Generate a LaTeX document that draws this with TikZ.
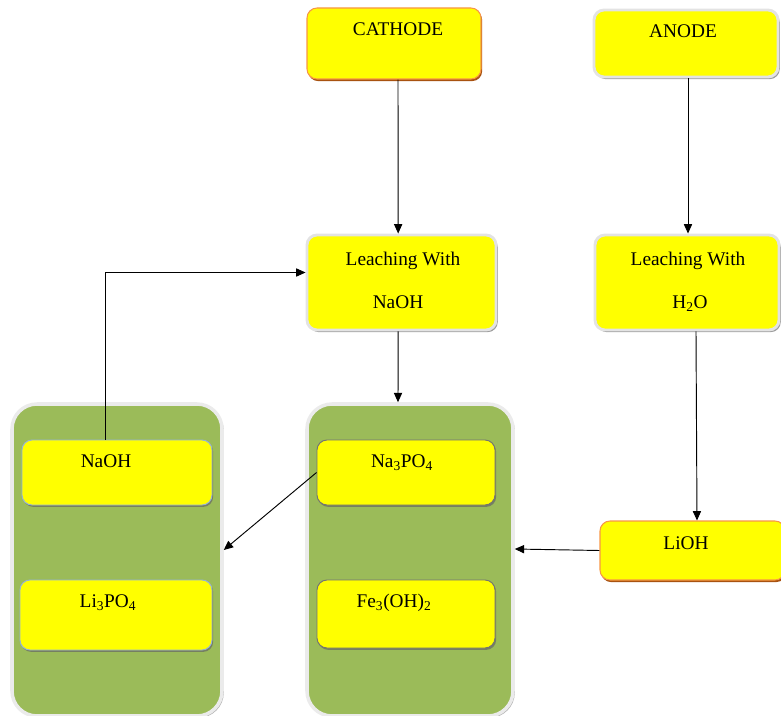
\documentclass[tikz,border=0pt]{standalone}
\usepackage{fontspec}
\setmainfont{Liberation Serif}
\usetikzlibrary{calc,shadows,arrows.meta}
\definecolor{boxyellow}{HTML}{FFFF00}
\definecolor{boxgreen}{HTML}{9BBB59}
\definecolor{edgeorange}{HTML}{F79646}
\definecolor{shadeorange}{HTML}{A85210}
\definecolor{edgeblue}{HTML}{95B3D7}

\begin{document}
\begin{tikzpicture}[
  box/.style={rectangle, fill=boxyellow, rounded corners=0.3cm, inner sep=0pt},
  whitebox/.style={box, draw=black!11, line width=2.5pt,
    drop shadow={shadow xshift=1.5pt, shadow yshift=-1.8pt, fill=black!55, opacity=0.7}},
  orangebox/.style={box, draw=edgeorange, line width=0.9pt,
    drop shadow={shadow xshift=1pt, shadow yshift=-1.8pt, fill=shadeorange, opacity=1}},
  innerbox/.style={box, draw=#1, line width=0.8pt,
    drop shadow={shadow xshift=1pt, shadow yshift=-1.6pt, fill=black!60, opacity=0.7}},
  group/.style={rectangle, fill=boxgreen, rounded corners=0.75cm, draw=black!8, line width=3pt,
    drop shadow={shadow xshift=1.5pt, shadow yshift=-1.5pt, fill=black!50, opacity=0.6}},
  txt/.style={anchor=base, inner sep=0pt, font=\fontsize{16.5}{20}\selectfont},
  arr/.style={-{Triangle[length=8pt,width=7pt]}, line width=0.8pt}
]
  \useasboundingbox (0,0) rectangle (23.43,-21.48);

  % top row
  \node[orangebox, minimum width=5.22cm, minimum height=2.13cm] at (11.82,-1.305) (cathode) {};
  \node[whitebox, minimum width=5.52cm, minimum height=2.01cm] at (20.58,-1.305) (anode) {};
  \node[txt] at (11.94,-1.08) (cathodet) {CATHODE};
  \node[txt] at (20.49,-1.14) (anodet) {ANODE};

  % leaching
  \node[whitebox, minimum width=5.67cm, minimum height=2.85cm] at (12.045,-8.475) (leachna) {};
  \node[whitebox, minimum width=5.52cm, minimum height=2.85cm] at (20.61,-8.475) (leachh) {};
  \node[txt] at (12.09,-7.95) (leachnat) {Leaching With};
  \node[txt] at (11.94,-9.24) (leachnab) {NaOH};
  \node[txt] at (20.64,-7.95) (leachht) {Leaching With};
  \node[txt] at (20.7,-9.24) (leachhb) {H\textsubscript{2}O};

  % product groups
  \node[group, minimum width=6.3cm, minimum height=9.36cm] at (3.51,-16.8) (leftgrp) {};
  \node[group, minimum width=6.18cm, minimum height=9.36cm] at (12.3,-16.8) (midgrp) {};

  \node[innerbox=edgeblue, minimum width=5.7cm, minimum height=1.95cm] at (3.51,-14.175) (naoh) {};
  \node[innerbox=edgeblue, minimum width=5.76cm, minimum height=2.1cm] at (3.48,-18.45) (lipo) {};
  \node[innerbox=black!55, minimum width=5.34cm, minimum height=1.95cm] at (12.18,-14.175) (napo) {};
  \node[innerbox=black!55, minimum width=5.34cm, minimum height=2.04cm] at (12.18,-18.42) (feoh) {};
  \node[txt] at (3.18,-14.01) (naoht) {NaOH};
  \node[txt] at (3.24,-18.21) (lipot) {Li\textsubscript{3}PO\textsubscript{4}};
  \node[txt] at (12.06,-14.01) (napot) {Na\textsubscript{3}PO\textsubscript{4}};
  \node[txt] at (11.82,-18.21) (feoht) {Fe\textsubscript{3}(OH)\textsubscript{2}};

  \node[orangebox, minimum width=5.55cm, minimum height=1.77cm] at (20.775,-16.515) (lioh) {};
  \node[txt] at (20.58,-16.47) (lioht) {LiOH};

  % arrows
  \draw[arr] ([xshift=0.12cm]cathode.south) -- ([xshift=-0.1cm]leachna.north);
  \draw[arr] ([xshift=0.06cm]anode.south) -- ([xshift=0.03cm]leachh.north);
  \draw[arr] ([xshift=-0.1cm]leachna.south) -- ([xshift=-0.36cm]midgrp.north);
  \draw[arr] ([xshift=0.27cm]leachh.south) -- ([xshift=0.135cm]lioh.north);
  \draw[arr] (lioh.west) -- ([yshift=0.33cm]midgrp.east);
  \draw[arr] (napo.west) -- ([yshift=0.3cm]leftgrp.east);
  \draw[arr] ([xshift=-0.36cm]naoh.north) |- ([yshift=0.3cm]leachna.west);
\end{tikzpicture}
\end{document}
